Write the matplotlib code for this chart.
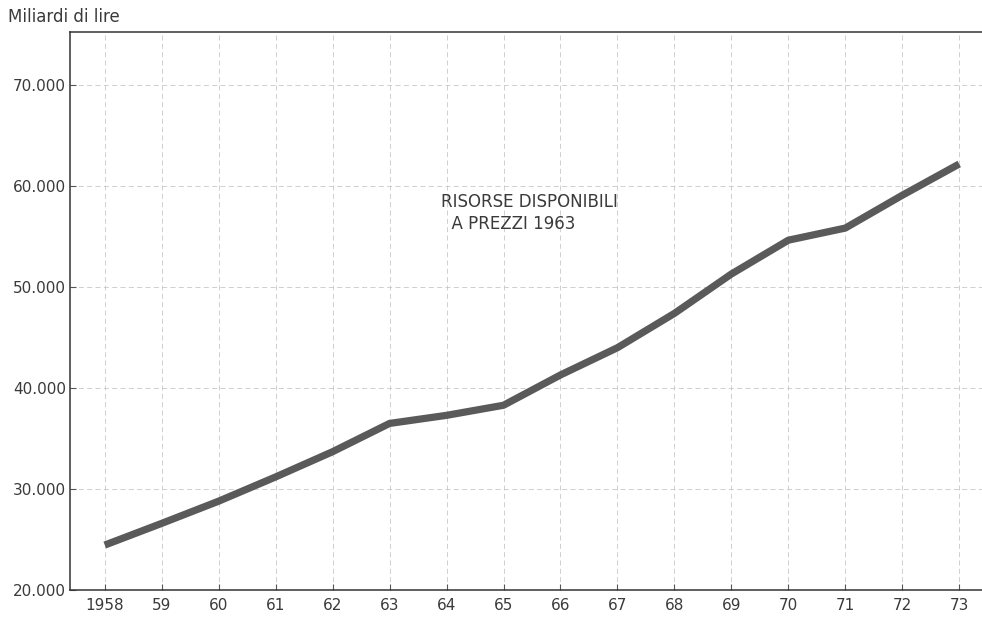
import matplotlib
matplotlib.use('Agg')
import matplotlib.pyplot as plt
from matplotlib.ticker import FuncFormatter

# Data (miliardi di lire, prezzi 1963)
years = [1958, 1959, 1960, 1961, 1962, 1963, 1964, 1965,
         1966, 1967, 1968, 1969, 1970, 1971, 1972, 1973]
risorse = [24450, 26600, 28800, 31200, 33700, 36500, 37300, 38300,
           41300, 44000, 47400, 51300, 54650, 55850, 59100, 62200]
year_labels = ['1958', '59', '60', '61', '62', '63', '64', '65',
               '66', '67', '68', '69', '70', '71', '72', '73']
y_ticks = [20000, 30000, 40000, 50000, 60000, 70000]

plt.rcParams['font.family'] = ['DejaVu Sans']
text_col = '#3a3a3a'

fig = plt.figure(figsize=(9.82, 6.2), dpi=100)
ax = fig.add_axes([0.0713, 0.0484, 0.9287, 0.8996])

ax.plot(years, risorse, color='#5a5a5a', lw=5.2, solid_capstyle='butt', zorder=3)

ax.set_xlim(1957.39, 1973.4)
ax.set_ylim(20000, 75250)

ax.set_xticks(years)
ax.set_xticklabels(year_labels)
ax.set_yticks(y_ticks)
ax.yaxis.set_major_formatter(FuncFormatter(lambda v, p: f'{int(v):,}'.replace(',', '.')))

ax.tick_params(axis='both', direction='in', length=4, width=0.8, colors='#555555',
               labelcolor=text_col, labelsize=11)
ax.tick_params(axis='x', pad=6)
ax.tick_params(axis='y', pad=3)

ax.grid(True, color='#c8c8c8', lw=0.6, ls=(0, (6, 4)), zorder=1)

for s in ['left', 'top', 'bottom']:
    ax.spines[s].set_color('#333333')
    ax.spines[s].set_linewidth(1.1)
ax.spines['right'].set_visible(False)

ax.text(0.407, 0.712, 'RISORSE DISPONIBILI\n  A PREZZI 1963', transform=ax.transAxes,
        fontsize=12, color=text_col, va='top', ha='left', linespacing=1.3)

fig.text(0.008, 0.972, 'Miliardi di lire', fontsize=12, color=text_col, va='center')

fig.savefig('out.png', dpi=100, facecolor='white')
